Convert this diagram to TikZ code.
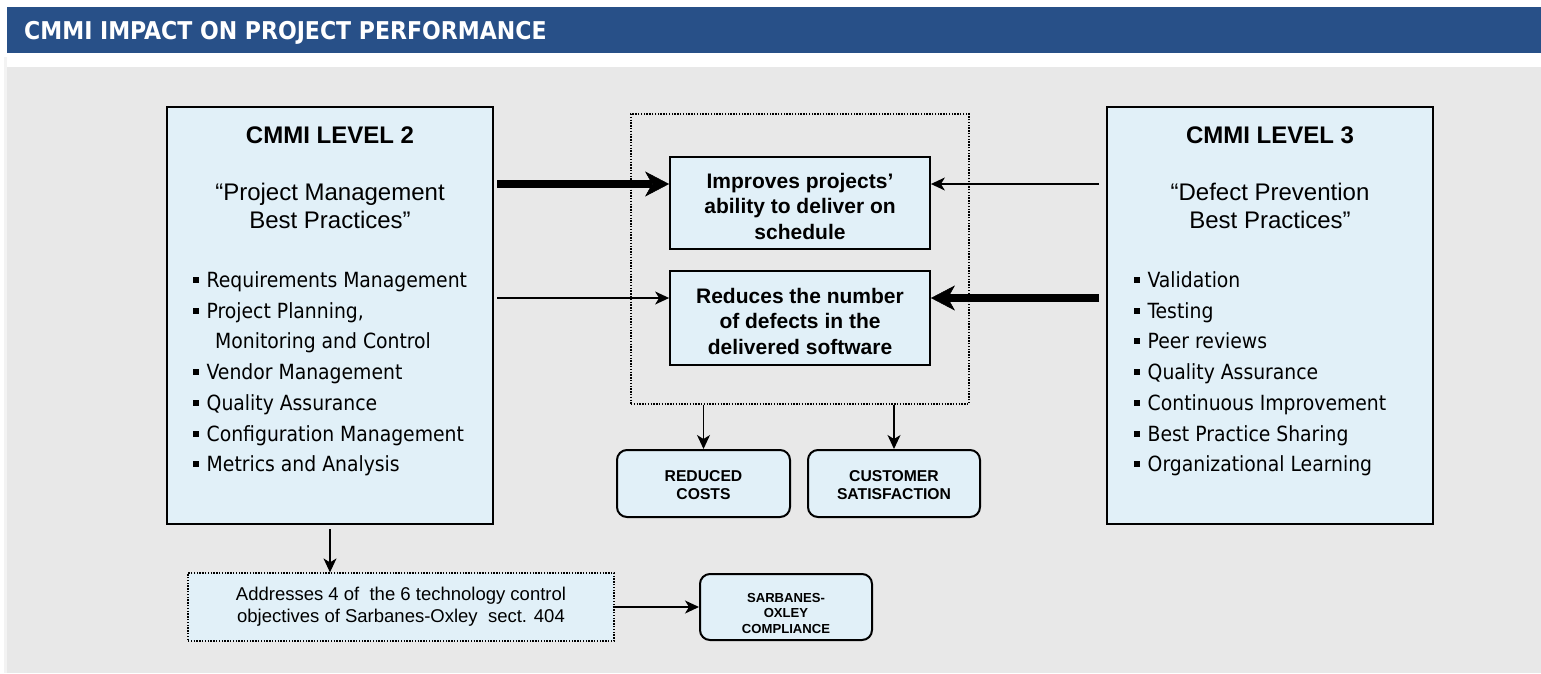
\documentclass[tikz,border=0pt]{standalone}
\usepackage{fontspec}
\setmainfont{Liberation Sans}
\newfontfamily\tahoma{DejaVu Sans Condensed}
\usepackage{tikz}
\usetikzlibrary{arrows.meta,positioning}
\definecolor{barblue}{RGB}{40,80,136}
\definecolor{boxblue}{RGB}{225,240,248}
\definecolor{panelgrey}{RGB}{232,232,232}
\definecolor{edgegrey}{RGB}{243,243,243}
\def\sq{\rule[4.5pt]{6pt}{6pt}\hspace{7.5pt}}
\def\topstrut#1{\rule{0pt}{#1}}

\tikzset{
	bigbox/.style={draw=black, line width=2pt, fill=boxblue, minimum width=326pt, minimum height=417pt, inner sep=0pt},
	effectbox/.style={draw=black, line width=1.8pt, fill=boxblue, minimum width=260pt, align=center, inner sep=0pt, font=\bfseries\fontsize{21pt}{25.5pt}\selectfont},
	resultbox/.style={draw=black, line width=2pt, rounded corners=10pt, fill=boxblue, align=center, inner sep=0pt, font=\bfseries\fontsize{15.7pt}{18.5pt}\selectfont},
	dotbox/.style={draw=black, line width=1.2pt, dash pattern=on 1.4pt off 1.4pt},
	headtext/.style={anchor=base, inner sep=0pt, font=\bfseries\fontsize{24pt}{24pt}\selectfont},
	quotetext/.style={anchor=base, inner sep=0pt, font=\fontsize{24pt}{24pt}\selectfont},
	listitem/.style={anchor=base west, inner sep=0pt, font=\tahoma\fontsize{20.9pt}{20.9pt}\selectfont},
	thin arrow/.style={-{Stealth[length=14pt,width=13pt,inset=4pt]}, line width=1.3pt},
	thick arrow/.style={-{Stealth[length=24pt,width=25pt,inset=7pt,line width=0.5pt]}, line width=8pt},
}

\begin{document}
\begin{tikzpicture}[x=1pt,y=-1pt]
		%%%%% START %%%%%
		\useasboundingbox (0,0) rectangle (1541,673);
		
		\fill[barblue] (7,7) rectangle (1541,53);
		\fill[edgegrey] (4,57) rectangle (7,673);
		\fill[panelgrey] (7,67) rectangle (1541,673);
		\node[anchor=base west, inner sep=0pt, text=white, font=\tahoma\bfseries\fontsize{24.5pt}{24.5pt}\selectfont] (title) at (24,39.3) {CMMI IMPACT ON PROJECT PERFORMANCE};
		
		% level 2
		\node[bigbox] (lvltwo) at (330,315.5) {};
		\node[headtext] (twohead) at (330,143.3) {CMMI LEVEL 2};
		\node[quotetext] (twoquoteA) at (330,200) {“Project Management};
		\node[quotetext] (twoquoteB) at (330,228) {Best Practices”};
		\foreach \y/\txt [count=\i] in {287.5/Requirements Management, 318.2/{Project Planning,}, 379.6/Vendor Management, 410.3/Quality Assurance, 441/Configuration Management, 471.7/Metrics and Analysis}
			\node[listitem] (two\i) at (193,\y) {\sq\txt};
		\node[listitem] (twomore) at (215,348.9) {Monitoring and Control};
		
		% level 3
		\node[bigbox] (lvlthree) at (1270,315.5) {};
		\node[headtext] (threehead) at (1270,143.3) {CMMI LEVEL 3};
		\node[quotetext] (threequoteA) at (1270,200) {“Defect Prevention};
		\node[quotetext] (threequoteB) at (1270,228) {Best Practices”};
		\foreach \y/\txt [count=\i] in {287.5/Validation, 318.2/Testing, 348.9/Peer reviews, 379.6/Quality Assurance, 410.3/Continuous Improvement, 441/Best Practice Sharing, 471.7/Organizational Learning}
			\node[listitem] (three\i) at (1134,\y) {\sq\txt};
		
		% effects
		\node[dotbox, minimum width=338pt, minimum height=290pt] (effects) at (800,259) {};
		\node[effectbox, minimum height=92pt] (sched) at (800,203) {\topstrut{22pt}Improves projects’\\ability to deliver on\\schedule};
		\node[effectbox, minimum height=94pt] (defects) at (800,318) {\topstrut{22pt}Reduces the number\\of defects in the\\delivered software};
		\coordinate (schedW) at ([yshift=19pt]sched.west);
		\coordinate (schedE) at ([yshift=19pt]sched.east);
		\coordinate (defW) at ([yshift=20pt]defects.west);
		\coordinate (defE) at ([yshift=20pt]defects.east);
		
		\draw[thick arrow, shorten <=3pt] (lvltwo.east |- schedW) -- (schedW);
		\draw[thin arrow, shorten <=3pt] (lvltwo.east |- defW) -- (defW);
		\draw[thin arrow, shorten <=7pt] (lvlthree.west |- schedE) -- (schedE);
		\draw[thick arrow, shorten <=7pt] (lvlthree.west |- defE) -- (defE);
		
		% results
		\node[resultbox, minimum width=173pt, minimum height=67pt] (costs) at (703.5,483.5) {\topstrut{14pt}REDUCED\\COSTS};
		\node[resultbox, minimum width=172pt, minimum height=67pt] (satis) at (894,483.5) {\topstrut{14pt}CUSTOMER\\SATISFACTION};
		\draw[thin arrow] (effects.south -| costs.north) -- (costs.north);
		\draw[thin arrow] (effects.south -| satis.north) -- (satis.north);
		
		% sarbanes-oxley
		\node[dotbox, fill=boxblue, minimum width=426pt, minimum height=68pt, align=center, inner sep=0pt, font=\fontsize{18.5pt}{22pt}\selectfont] (soxnote) at (401,607) {Addresses 4 of~ the 6 technology control\\objectives of Sarbanes-Oxley~ sect. 404};
		\node[resultbox, minimum width=172pt, minimum height=66pt, font=\bfseries\fontsize{13.1pt}{15.3pt}\selectfont] (sox) at (786,607) {\topstrut{22pt}SARBANES-\\OXLEY\\COMPLIANCE};
		\draw[thin arrow, shorten <=4pt] (lvltwo.south) -- (lvltwo.south |- soxnote.north);
		\draw[thin arrow] ([xshift=-2pt]soxnote.east) -- (sox.west);
		
		%%%%% END %%%%%
\end{tikzpicture}
\end{document}
